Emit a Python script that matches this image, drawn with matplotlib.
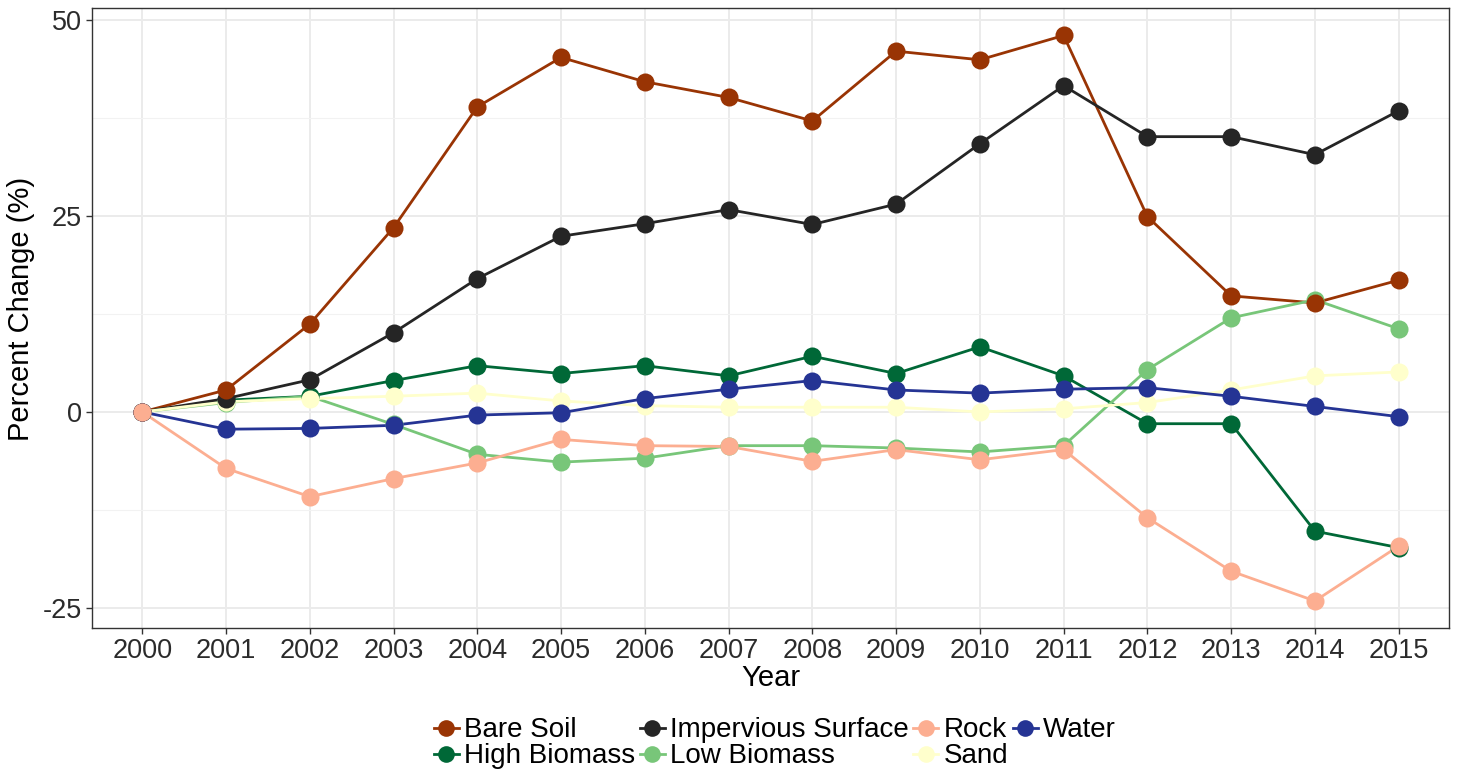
import matplotlib

matplotlib.use("Agg")
import matplotlib.pyplot as plt
import numpy as np

plt.rcParams["font.family"] = ["Liberation Sans", "DejaVu Sans"]
plt.rcParams["axes.unicode_minus"] = False

# ---------- data ---------- #
years = [str(y) for y in range(2000, 2016)]

bare_soil = [0, 2.8, 11.2, 23.5, 38.9, 45.2, 42.1, 40.1, 37.1, 46.0, 44.9, 48.0, 24.9, 14.8, 13.9, 16.8]
high_biomass = [0, 1.5, 2.0, 4.0, 5.9, 4.9, 5.9, 4.6, 7.1, 4.9, 8.3, 4.6, -1.5, -1.5, -15.2, -17.3]
impervious = [0, 1.7, 4.1, 10.1, 17.0, 22.4, 24.0, 25.8, 23.9, 26.5, 34.2, 41.6, 35.1, 35.1, 32.8, 38.4]
low_biomass = [0, 1.2, 2.0, -1.6, -5.4, -6.4, -5.9, -4.3, -4.3, -4.6, -5.1, -4.3, 5.4, 12.0, 14.3, 10.6]
rock = [0, -7.2, -10.8, -8.5, -6.5, -3.5, -4.3, -4.4, -6.3, -4.8, -6.1, -4.8, -13.5, -20.3, -24.1, -17.1]
sand = [0, 1.3, 1.7, 2.0, 2.4, 1.4, 0.8, 0.6, 0.6, 0.6, 0.0, 0.4, 1.2, 2.8, 4.6, 5.1]
water = [0, -2.2, -2.1, -1.7, -0.4, -0.1, 1.7, 2.9, 4.0, 2.8, 2.4, 2.9, 3.1, 2.0, 0.7, -0.6]

classes = ["Bare Soil", "High Biomass", "Impervious Surface", "Low Biomass", "Rock", "Sand", "Water"]
series = [bare_soil, high_biomass, impervious, low_biomass, rock, sand, water]
colors = ["#993404", "#006837", "#252525", "#78C679", "#FCAE91", "#FFFFCC", "#253494"]

# draw order of the points (later = on top)
point_order = ["Low Biomass", "High Biomass", "Sand", "Impervious Surface", "Bare Soil", "Water", "Rock"]

fig = plt.figure(figsize=(14.58, 7.72), dpi=100)
ax = fig.add_axes([0.0631, 0.1865, 0.9307, 0.8031])

x = np.arange(len(years))

# lines first, then points on top
for name, vals, col in zip(classes, series, colors):
    ax.plot(x, vals, color=col, lw=2.0, zorder=3, solid_capstyle="round")

for name in point_order:
    i = classes.index(name)
    ax.plot(x, series[i], ls="none", marker="o", ms=13, color=colors[i],
            markeredgewidth=0, zorder=4)

handles = {}
for name, col in zip(classes, colors):
    handles[name] = ax.plot([], [], color=col, lw=2.0, marker="o", ms=12,
                            markeredgewidth=0)[0]

# ---------- axes ---------- #
ax.set_xlim(-0.6, len(years) - 1 + 0.6)
ax.set_ylim(-27.55, 51.5)
ax.set_xticks(x)
ax.set_xticklabels(years)
ax.set_yticks([-25, 0, 25, 50])
ax.set_yticks([-12.5, 12.5, 37.5], minor=True)

ax.grid(True, which="major", color="#EBEBEB", lw=1.4, zorder=0)
ax.grid(True, which="minor", axis="y", color="#F2F2F2", lw=0.8, zorder=0)
ax.set_axisbelow(True)

for s in ax.spines.values():
    s.set_color("#333333")
    s.set_linewidth(1.0)

ax.tick_params(axis="both", which="major", labelsize=19.5, colors="#333333",
               labelcolor="#2b2b2b", length=4.5, width=1.0, pad=3)
ax.tick_params(axis="y", which="minor", length=0)

ax.set_xlabel("Year", fontsize=21)
ax.set_ylabel("Percent Change (%)", fontsize=21)
ax.xaxis.set_label_coords(0.5, -0.058)
ax.yaxis.set_label_coords(-0.052, 0.515)
ax.yaxis.label.set_va("center")

fig.legend([handles[c] for c in classes], classes, loc="center",
           bbox_to_anchor=(0.5315, 0.037), ncol=4, frameon=False, fontsize=20,
           handlelength=0.9, handletextpad=0.2, columnspacing=0.15,
           labelspacing=0.0, borderpad=0)

fig.savefig("out.png", dpi=100)
